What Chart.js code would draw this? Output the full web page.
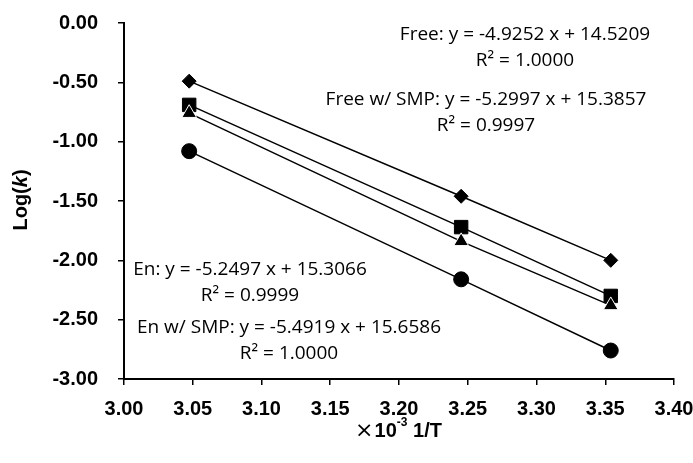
<!DOCTYPE html>
<html>
<head>
<meta charset="utf-8">
<script src="https://cdn.jsdelivr.net/npm/chart.js@4.4.0/dist/chart.umd.min.js"></script>
<style>
  html, body { margin: 0; padding: 0; background: #fff; }
  #wrap { width: 693px; height: 463px; }
</style>
</head>
<body>
<div id="wrap"><canvas id="chart"></canvas></div>
<script>
// 1/T (x10^-3) for 55, 35 and 25 C
const invT = [3.0474, 3.2452, 3.3540];
const freeLog = [-0.49, -1.46, -2.00];
const freeSmpLog = [-0.76, -1.84, -2.38];
const enLog = [-0.69, -1.72, -2.30];
const enSmpLog = [-1.08, -2.16, -2.76];

const xTicks = [3.00, 3.05, 3.10, 3.15, 3.20, 3.25, 3.30, 3.35, 3.40];
const yTicks = [0, -0.5, -1, -1.5, -2, -2.5, -3];

// fit equations, as printed on the figure
const eqLabels = [
  { lines: ["Free: y = -4.9252 x + 14.5209", "R\u00b2 = 1.0000"], cx: 525, y: 35 },
  { lines: ["Free w/ SMP: y = -5.2997 x + 15.3857", "R\u00b2 = 0.9997"], cx: 486, y: 100 },
  { lines: ["En: y = -5.2497 x + 15.3066", "R\u00b2 = 0.9999"], cx: 250, y: 270 },
  { lines: ["En w/ SMP: y = -5.4919 x + 15.6586", "R\u00b2 = 1.0000"], cx: 289, y: 328 }
];

const pts = (ys) => invT.map((x, i) => ({ x: x, y: ys[i] }));

function series(label, ys, style, radius, order, border) {
  return {
    label: label,
    data: pts(ys),
    showLine: true,
    borderColor: "#000",
    borderWidth: 1.5,
    pointStyle: style,
    pointRadius: radius,
    pointBackgroundColor: "#000",
    pointBorderColor: border || "#000",
    pointBorderWidth: 1,
    order: order
  };
}

const labelsPlugin = {
  id: "labels",
  afterDraw(chart) {
    const ctx = chart.ctx;
    ctx.save();
    ctx.fillStyle = "#000";
    ctx.textAlign = "center";
    ctx.textBaseline = "middle";
    ctx.font = "19px 'Open Sans'";
    eqLabels.forEach(l => {
      l.lines.forEach((t, i) => ctx.fillText(t, l.cx, l.y + i * 26));
    });

    // y title: Log(k) with italic k
    ctx.save();
    ctx.translate(21, 200);
    ctx.rotate(-Math.PI / 2);
    ctx.textAlign = "left";
    const parts = [["Log(", "bold 20px 'Liberation Sans'"], ["k", "italic bold 20px 'Liberation Sans'"], [")", "bold 20px 'Liberation Sans'"]];
    let w = 0;
    parts.forEach(p => { ctx.font = p[1]; w += ctx.measureText(p[0]).width; });
    let x = -w / 2;
    parts.forEach(p => { ctx.font = p[1]; ctx.fillText(p[0], x, 0); x += ctx.measureText(p[0]).width; });
    ctx.restore();

    // x title: x10^-3 1/T
    ctx.textAlign = "left";
    const a = "\u00d7", b = "10", sup = "-3", c = " 1/T";
    ctx.font = "22px 'DejaVu Sans'";
    const wa = ctx.measureText(a).width;
    ctx.font = "bold 20px 'Liberation Sans'";
    const wb = ctx.measureText(b).width;
    const wc = ctx.measureText(c).width;
    ctx.font = "bold 12px 'Liberation Sans'";
    const ws = ctx.measureText(sup).width;
    let px = 398 - (wa + wb + ws + wc) / 2;
    const py = 431;
    ctx.font = "22px 'DejaVu Sans'";
    ctx.fillText(a, px, py); px += wa + 1;
    ctx.font = "bold 20px 'Liberation Sans'";
    ctx.fillText(b, px, py); px += wb;
    ctx.font = "bold 12px 'Liberation Sans'";
    ctx.fillText(sup, px, py - 8); px += ws;
    ctx.font = "bold 20px 'Liberation Sans'";
    ctx.fillText(c, px, py);
    ctx.restore();
  }
};

const tickFont = { family: "'Liberation Sans', Arial, sans-serif", size: 20, weight: "bold" };

new Chart(document.getElementById("chart"), {
  type: "scatter",
  data: {
    datasets: [
      series("Free", freeLog, "rectRot", 7, 4),
      series("En", enLog, "rect", 9.5, 3),
      series("Free w/ SMP", freeSmpLog, "triangle", 8.5, 2, "#fff"),
      series("En w/ SMP", enSmpLog, "circle", 7.5, 1)
    ]
  },
  options: {
    responsive: true,
    maintainAspectRatio: false,
    animation: false,
    layout: { padding: { top: 23, right: 19, left: 0, bottom: 0 } },
    plugins: { legend: { display: false }, tooltip: { enabled: false } },
    scales: {
      x: {
        type: "linear",
        min: 3.0,
        max: 3.4,
        afterBuildTicks: s => { s.ticks = xTicks.map(v => ({ value: v })); },
        afterFit: s => { s.height = 84; s.paddingLeft = 0; s.paddingRight = 0; },
        border: { color: "#000", width: 2 },
        grid: { drawOnChartArea: false, color: "#000", lineWidth: 1.5, tickLength: 6 },
        ticks: {
          color: "#000",
          font: tickFont,
          padding: 12,
          maxRotation: 0,
          callback: v => v.toFixed(2)
        }
      },
      y: {
        type: "linear",
        min: -3,
        max: 0,
        afterBuildTicks: s => { s.ticks = yTicks.map(v => ({ value: v })); },
        afterFit: s => { s.width = 124; s.paddingTop = 0; s.paddingBottom = 0; },
        border: { color: "#000", width: 2 },
        grid: { drawOnChartArea: false, color: "#000", lineWidth: 1.5, tickLength: 6 },
        ticks: {
          color: "#000",
          font: tickFont,
          padding: 20,
          callback: v => v.toFixed(2)
        }
      }
    }
  },
  plugins: [labelsPlugin]
});
</script>
</body>
</html>
